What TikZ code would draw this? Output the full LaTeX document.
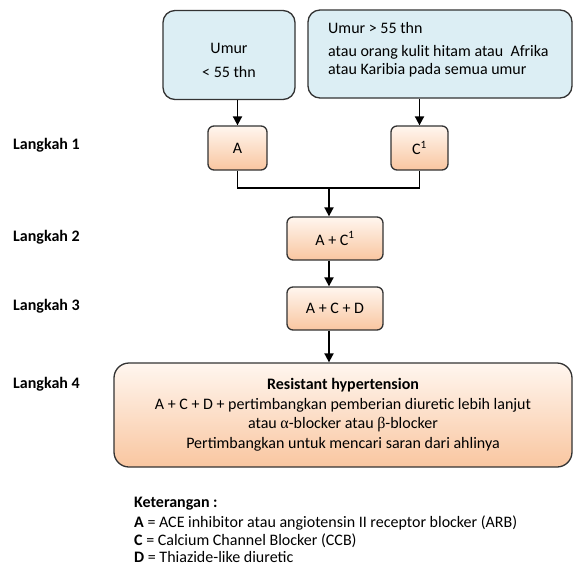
\documentclass[tikz,border=0pt]{standalone}
\usepackage{fontspec}
\setmainfont{Carlito}
\newfontfamily\greekfont{Liberation Serif}
\usetikzlibrary{arrows.meta}
\definecolor{bluefill}{HTML}{DCEEF4}
\definecolor{peach}{HTML}{F9C6A0}
\definecolor{peachtop}{HTML}{FFF6EF}
\definecolor{edgecol}{HTML}{333333}
\begin{document}
\begin{tikzpicture}[x=1pt,y=-1pt,
  font=\fontsize{16}{19}\selectfont,
  bluebox/.style={draw=edgecol, line width=1.3pt, fill=bluefill, rounded corners=12pt, inner sep=0pt},
  orbox/.style={draw=edgecol, line width=1.3pt, top color=peachtop, bottom color=peach, rounded corners=6pt, inner sep=0pt, minimum height=44pt},
  conn/.style={line width=1.8pt, black},
  arr/.style={conn, -{Triangle[length=9pt,width=9pt]}},
  steplabel/.style={font=\fontsize{16}{19}\selectfont\bfseries, anchor=base west, inner sep=0pt},
  txt/.style={inner sep=0pt}]
\useasboundingbox (0,0) rectangle (574,566);

% top boxes
\node[bluebox, minimum width=132pt, minimum height=89pt] (u1) at (229,55) {};
\node[txt, anchor=base] (u1a) at (229,53) {Umur};
\node[txt, anchor=base] (u1b) at (229,77) {< 55 thn};
\node[bluebox, minimum width=264pt, minimum height=88pt] (u2) at (440,54) {};
\node[txt, anchor=base west] (u2a) at (328,33) {Umur > 55 thn};
\node[txt, anchor=base west] (u2b) at (328,56) {atau orang kulit hitam atau\ \ Afrika};
\node[txt, anchor=base west] (u2c) at (328,74) {atau Karibia pada semua umur};

% step labels
\node[steplabel] (l1) at (13,149) {Langkah 1};
\node[steplabel] (l2) at (13,241) {Langkah 2};
\node[steplabel] (l3) at (13,310) {Langkah 3};
\node[steplabel] (l4) at (13,388) {Langkah 4};

% orange boxes
\node[orbox, minimum width=59pt] (A) at (237.5,148) {A};
\node[orbox, minimum width=57pt] (C) at (419.5,148) {C\textsuperscript{1}};
\node[orbox, minimum width=96pt, minimum height=43pt] (AC) at (335,238.5) {A + C\textsuperscript{1}};
\node[orbox, minimum width=96pt, minimum height=43pt] (ACD) at (335,308.5) {A + C + D};
\node[orbox, rounded corners=15pt, minimum width=458pt, minimum height=104pt, align=center,
      font=\fontsize{16}{19.5}\selectfont] (R) at (343,415)
  {\textbf{Resistant hypertension}\\
   A + C + D + pertimbangkan pemberian diuretic lebih lanjut\\
   atau {\greekfont α}-blocker atau {\greekfont β}-blocker\\
   Pertimbangkan untuk mencari saran dari ahlinya};

% connectors
\coordinate (j) at (329,188);
\draw[arr] (u1.south -| A.north) -- (A.north);
\draw[arr] (u2.south -| C.north) -- (C.north);
\draw[conn] (A.south) |- (j) -| (C.south);
\draw[arr] (j) -- (j |- AC.north);
\draw[arr] (j |- AC.south) -- (j |- ACD.north);
\draw[arr] (j |- ACD.south) -- (j |- R.north);

% legend
\node[txt, anchor=base west, font=\fontsize{16}{19}\selectfont\bfseries] (k0) at (134,507) {Keterangan :};
\node[txt, anchor=base west] (k1) at (134,527) {\textbf{A} = ACE inhibitor atau angiotensin II receptor blocker (ARB)};
\node[txt, anchor=base west] (k2) at (134,545) {\textbf{C} = Calcium Channel Blocker (CCB)};
\node[txt, anchor=base west] (k3) at (134,562) {\textbf{D} = Thiazide-like diuretic};
\end{tikzpicture}
\end{document}
